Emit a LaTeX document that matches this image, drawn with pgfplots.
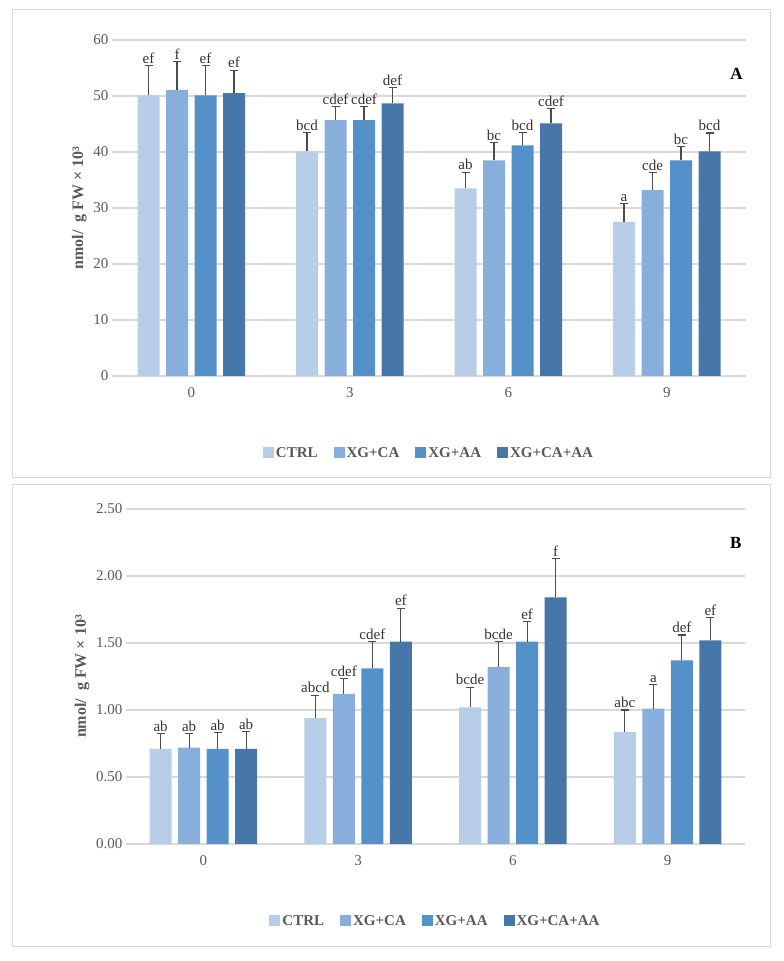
\documentclass[border=0pt]{standalone}
\usepackage{pgfplots}
\pgfplotsset{compat=1.18}
\usepackage{pgfplotstable}
\usepackage{fontspec}
\setmainfont{Liberation Serif}
\definecolor{c1}{HTML}{B8CDE7}
\definecolor{c2}{HTML}{88AFDB}
\definecolor{c3}{HTML}{5591C9}
\definecolor{c4}{HTML}{4677A8}
\definecolor{tk}{HTML}{595959}
\definecolor{gl}{HTML}{D9D9D9}
% panel A
\pgfplotstableread{
x y top t
0 50.1 55.4 ef
1 40.1 43.5 bcd
2 33.5 36.4 ab
3 27.5 30.8 a
}\Aa
\pgfplotstableread{
x y top t
0 51.1 56.1 f
1 45.7 48.1 cdef
2 38.5 41.7 bc
3 33.2 36.3 cde
}\Ab
\pgfplotstableread{
x y top t
0 50.1 55.4 ef
1 45.7 48.1 cdef
2 41.2 43.5 bcd
3 38.5 41.0 bc
}\Ac
\pgfplotstableread{
x y top t
0 50.5 54.6 ef
1 48.7 51.5 def
2 45.1 47.7 cdef
3 40.1 43.4 bcd
}\Ad
% panel B
\pgfplotstableread{
x y top t
0 0.71 0.825 ab
1 0.94 1.11 abcd
2 1.02 1.17 bcde
3 0.835 1.00 abc
}\Ba
\pgfplotstableread{
x y top t
0 0.72 0.825 ab
1 1.12 1.235 cdef
2 1.32 1.51 bcde
3 1.01 1.19 a
}\Bb
\pgfplotstableread{
x y top t
0 0.71 0.83 ab
1 1.31 1.51 cdef
2 1.51 1.66 ef
3 1.37 1.56 def
}\Bc
\pgfplotstableread{
x y top t
0 0.71 0.84 ab
1 1.51 1.76 ef
2 1.84 2.13 f
3 1.52 1.69 ef
}\Bd
\pgfplotsset{
  common/.style={
    scale only axis, ybar, bar width=22pt,
    xmin=-0.5, xmax=3.5, xtick={0,1,2,3}, xticklabels={0,3,6,9},
    ymin=0, ymajorgrids, grid style={gl, line width=1.2pt},
    axis x line*=bottom, axis y line*=left,
    x axis line style={gl, line width=1.2pt, -},
    y axis line style={draw=none},
    major tick length=0pt,
    tick label style={font=\fontsize{15}{16}\selectfont, text=tk},
    xticklabel style={yshift=-8pt},
    ylabel={\textbf{nmol/\ \ g FW × 10³}},
    ylabel style={font=\fontsize{16}{18}\selectfont, text=tk},
    /pgf/number format/assume math mode=true,
    legend style={at={(0.5,-0.2)}, anchor=north, draw=none, legend columns=4,
      font=\bfseries\fontsize{15}{16}\selectfont, text=tk,
      /tikz/every even column/.append style={column sep=14pt}},
    legend image code/.code={\fill[##1] (0pt,-5pt) rectangle (11pt,6pt);},
    every axis plot/.append style={draw=none},
  },
  eb/.style={error bars/.cd, y dir=plus, y explicit, error bar style={draw=black!70, line width=1.2pt}, error mark options={rotate=90, mark size=4pt, line width=1.2pt, draw=black!70}},
  lb/.style={forget plot, fill=none, draw=none, bar shift=#1, nodes near coords, point meta=explicit symbolic,
    nodes near coords style={font=\fontsize{15}{16}\selectfont, text=black!80, inner sep=2pt}},
}
\newcommand\series[3]{%
  \addplot[fill=#2, bar shift=#3, eb] table[x=x,y=y,y error plus expr=\thisrow{top}-\thisrow{y}]{#1};}
\newcommand\labels[2]{%
  \addplot[lb=#2] table[x=x,y=top,meta=t]{#1};}
\begin{document}
\begin{tikzpicture}
\path[use as bounding box] (0pt,0pt) rectangle (784pt,961pt);
\draw[gl, line width=1pt] (12pt,483pt) rectangle (770pt,951pt);
\draw[gl, line width=1pt] (12pt,14pt) rectangle (770pt,476pt);
\begin{axis}[common, at={(112pt,585pt)}, anchor=south west, width=634pt, height=336pt,
  ymax=60, ytick={0,10,...,60}]
\series{\Aa}{c1}{-42.75pt}
\series{\Ab}{c2}{-14.25pt}
\series{\Ac}{c3}{14.25pt}
\series{\Ad}{c4}{42.75pt}
\labels{\Aa}{-42.75pt}
\labels{\Ab}{-14.25pt}
\labels{\Ac}{14.25pt}
\labels{\Ad}{42.75pt}
\legend{CTRL,XG+CA,XG+AA,XG+CA+AA}
\node[font=\bfseries\fontsize{17}{18}\selectfont] at (rel axis cs:0.985,0.9) {A};
\end{axis}
\begin{axis}[common, at={(126pt,117pt)}, anchor=south west, width=619pt, height=335pt,
  ymax=2.5, ytick={0,0.5,...,2.5},
  yticklabel style={/pgf/number format/.cd, fixed, fixed zerofill, precision=2}]
\series{\Ba}{c1}{-42.75pt}
\series{\Bb}{c2}{-14.25pt}
\series{\Bc}{c3}{14.25pt}
\series{\Bd}{c4}{42.75pt}
\labels{\Ba}{-42.75pt}
\labels{\Bb}{-14.25pt}
\labels{\Bc}{14.25pt}
\labels{\Bd}{42.75pt}
\legend{CTRL,XG+CA,XG+AA,XG+CA+AA}
\node[font=\bfseries\fontsize{17}{18}\selectfont] at (rel axis cs:0.985,0.9) {B};
\end{axis}
\end{tikzpicture}
\end{document}
